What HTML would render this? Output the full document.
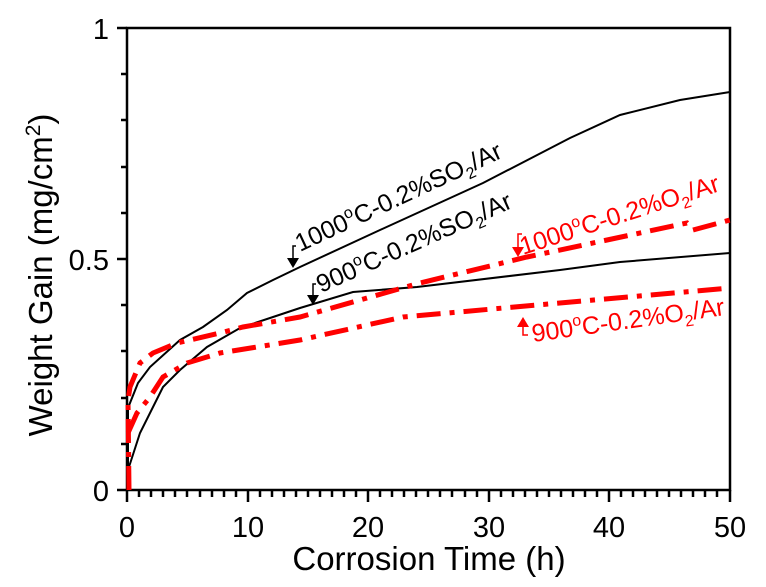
<!DOCTYPE html>
<html><head><style>body{margin:0;background:#fff}svg{display:block}text{font-family:"Liberation Sans",sans-serif}</style></head><body>
<svg width="766" height="587" viewBox="0 0 766 587">
<g stroke="#000" stroke-width="2.5" fill="none">
<path d="M127,28 H730 V490 H127 Z"/>
<path d="M117,28H127M117,259H127M117,490H127"/>
<path d="M121,74H127M121,120H127M121,167H127M121,213H127M121,305H127M121,351H127M121,398H127M121,444H127"/>
<path d="M127,490V502M248,490V502M368,490V502M489,490V502M609,490V502M730,490V502"/>
<path d="M139,490v7M151,490v7M163,490v7M175,490v7M187,490v7M200,490v7M212,490v7M224,490v7M236,490v7M260,490v7M272,490v7M284,490v7M296,490v7M308,490v7M320,490v7M332,490v7M344,490v7M356,490v7M380,490v7M392,490v7M404,490v7M416,490v7M428,490v7M440,490v7M452,490v7M465,490v7M477,490v7M501,490v7M513,490v7M525,490v7M537,490v7M549,490v7M561,490v7M573,490v7M585,490v7M597,490v7M621,490v7M633,490v7M645,490v7M657,490v7M669,490v7M681,490v7M693,490v7M705,490v7M717,490v7"/>
</g>
<g font-size="29" text-anchor="end"><text x="109" y="39">1</text><text x="109" y="270">0.5</text><text x="109" y="501">0</text></g>
<g font-size="29" text-anchor="middle"><text x="127" y="537">0</text><text x="248" y="537">10</text><text x="368" y="537">20</text><text x="489" y="537">30</text><text x="609" y="537">40</text><text x="730" y="537">50</text></g>
<text x="429" y="570" font-size="33" text-anchor="middle">Corrosion Time (h)</text>
<text transform="translate(52,275) rotate(-90)" font-size="33" text-anchor="middle">Weight Gain (mg/cm<tspan font-size="21" dy="-12">2</tspan><tspan dy="12">)</tspan></text>
<g fill="none" stroke-width="2" stroke="#000">
<polyline points="128,470 128,408 138,383 150,367 180,340 203,327 227,310 247,293 273,280 300,267 380,230 483,183 570,138 620,115 680,100 730,92"/>
<polyline points="128,490 128,470 140,433 163,387 180,370 207,347 240,328 273,317 300,308 353,292 417,287 560,270 620,262 730,253"/>
</g>
<g fill="none" stroke-width="5" stroke="#f00" stroke-dasharray="24,9,5,9">
<polyline points="129,490 128,400 130,387 140,363 153,353 177,343 220,333 243,327 300,317 420,283 527,257 687,223 693,230 730,220"/>
<polyline points="128,433 137,413 150,397 163,377 187,363 220,353 300,340 403,317 537,305 730,288"/>
</g>
<g font-size="25">
<text transform="translate(300,252) rotate(-25)">1000<tspan font-size="16" dy="-10">o</tspan><tspan dy="10">C-0.2%SO</tspan><tspan font-size="16" dy="6">2</tspan><tspan dy="-6">/Ar</tspan></text>
<text transform="translate(321,293) rotate(-24)">900<tspan font-size="16" dy="-10">o</tspan><tspan dy="10">C-0.2%SO</tspan><tspan font-size="16" dy="6">2</tspan><tspan dy="-6">/Ar</tspan></text>
<g fill="#f00">
<text transform="translate(523,255) rotate(-18)">1000<tspan font-size="16" dy="-10">o</tspan><tspan dy="10">C-0.2%O</tspan><tspan font-size="16" dy="6">2</tspan><tspan dy="-6">/Ar</tspan></text>
<text transform="translate(533,342) rotate(-8)">900<tspan font-size="16" dy="-10">o</tspan><tspan dy="10">C-0.2%O</tspan><tspan font-size="16" dy="6">2</tspan><tspan dy="-6">/Ar</tspan></text>
</g></g>
<g stroke-width="1.5" fill="none">
<path d="M296,246h-3v14" stroke="#000"/><path d="M287,258l6,10l6,-10z" fill="#000"/>
<path d="M316,284h-3v14" stroke="#000"/><path d="M307,295l6,10l6,-10z" fill="#000"/>
<path d="M522,234h-4v16" stroke="#f00"/><path d="M512,247l6,10l6,-10z" fill="#f00"/>
<path d="M528,335h-5v-10" stroke="#f00"/><path d="M517,327l6,-10l6,10z" fill="#f00"/>
</g>
</svg>
</body></html>
